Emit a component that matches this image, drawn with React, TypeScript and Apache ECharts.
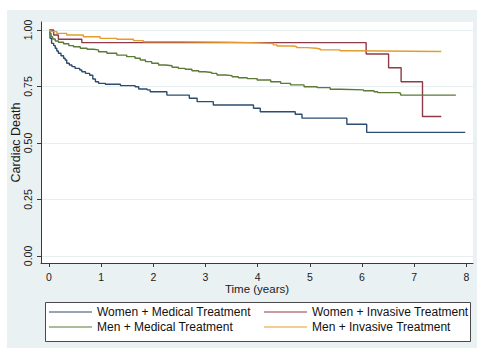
import React, { useEffect, useRef } from "react";
import * as echarts from "echarts";

// Kaplan-Meier style step curves: [time (years), survival]
const womenMedical: [number, number][] = [
  [0, 1], [0.02, 0.963], [0.05, 0.941], [0.09, 0.931], [0.12, 0.919], [0.15, 0.907],
  [0.18, 0.897], [0.23, 0.886], [0.28, 0.875], [0.31, 0.867], [0.34, 0.853], [0.39, 0.845],
  [0.44, 0.838], [0.5, 0.83], [0.59, 0.823], [0.63, 0.815], [0.7, 0.808], [0.78, 0.8],
  [0.84, 0.783], [0.89, 0.771], [0.95, 0.764], [1.08, 0.76], [1.37, 0.754], [1.65, 0.749],
  [1.72, 0.739], [1.88, 0.735], [1.94, 0.727], [2.26, 0.712], [2.69, 0.698], [2.84, 0.683],
  [3.15, 0.668], [3.92, 0.654], [4.05, 0.638], [4.72, 0.627], [4.85, 0.61], [5.71, 0.583],
  [6.09, 0.547], [7.98, 0.547],
];
const womenInvasive: [number, number][] = [
  [0, 1], [0.09, 0.978], [0.18, 0.959], [0.63, 0.944], [6.08, 0.894], [6.51, 0.833],
  [6.75, 0.771], [7.16, 0.617], [7.52, 0.617],
];
const menMedical: [number, number][] = [
  [0, 1], [0.02, 0.985], [0.04, 0.97], [0.07, 0.96], [0.12, 0.951], [0.18, 0.946],
  [0.28, 0.939], [0.38, 0.931], [0.47, 0.926], [0.6, 0.919], [0.73, 0.915], [0.85, 0.912],
  [0.95, 0.904], [1.11, 0.897], [1.3, 0.889], [1.49, 0.882], [1.65, 0.875], [1.75, 0.867],
  [1.85, 0.86], [1.97, 0.853], [2.1, 0.845], [2.23, 0.842], [2.36, 0.835], [2.48, 0.83],
  [2.61, 0.826], [2.74, 0.82], [2.87, 0.815], [2.99, 0.812], [3.12, 0.808], [3.22, 0.801],
  [3.38, 0.798], [3.51, 0.793], [3.63, 0.789], [3.8, 0.785], [3.99, 0.779], [4.25, 0.771],
  [4.44, 0.764], [4.63, 0.757], [4.89, 0.749], [5.14, 0.745], [5.39, 0.738], [5.59, 0.735],
  [6.03, 0.731], [6.23, 0.727], [6.3, 0.723], [6.7, 0.72], [6.74, 0.712], [7.8, 0.712],
];
const menInvasive: [number, number][] = [
  [0, 1], [0.02, 0.993], [0.15, 0.985], [0.34, 0.978], [0.66, 0.97], [0.98, 0.963],
  [1.3, 0.959], [1.62, 0.953], [1.81, 0.948], [2.5, 0.946], [3.5, 0.943], [4.0, 0.94],
  [4.3, 0.934], [4.37, 0.929], [4.69, 0.926], [4.75, 0.922], [4.94, 0.919], [5.13, 0.916],
  [5.2, 0.912], [5.58, 0.908], [5.77, 0.905], [7.52, 0.905],
];

const seriesNames = [
  "Women + Medical Treatment",
  "Women + Invasive Treatment",
  "Men + Medical Treatment",
  "Men + Invasive Treatment",
];
const seriesColors = ["#2c4d6e", "#8e3a47", "#5b7a36", "#e49c2c"];
const xTicks = [0, 1, 2, 3, 4, 5, 6, 7, 8];
const yTicks = [0, 0.25, 0.5, 0.75, 1];

const FONT = "'Liberation Sans', Arial, Helvetica, sans-serif";
const LEGEND_ICON = "path://M0,0 L43,0 L43,1.2 L0,1.2 Z";

export default function App() {
  const ref = useRef<HTMLDivElement>(null);
  useEffect(() => {
    if (!ref.current) return;
    const chart = echarts.init(ref.current, undefined, { renderer: "svg" });
    const datasets = [womenMedical, womenInvasive, menMedical, menInvasive];
    const legendBase = {
      orient: "vertical",
      top: 306,
      icon: LEGEND_ICON,
      itemWidth: 43,
      itemHeight: 14,
      itemGap: 3,
      padding: 0,
      textStyle: { fontSize: 12, color: "#111", fontFamily: FONT, fontWeight: "normal" },
    };
    chart.setOption({
      animation: false,
      backgroundColor: "#eaf1f3",
      textStyle: { fontFamily: FONT },
      grid: {
        left: 41,
        right: 4,
        top: 22,
        bottom: 87,
        show: true,
        backgroundColor: "#ffffff",
        borderWidth: 0,
        containLabel: false,
        outerBoundsMode: "none",
      },
      xAxis: {
        type: "value",
        min: -0.153,
        max: 8.128,
        axisLine: { show: true, onZero: false, lineStyle: { color: "#3a3a3a", width: 1 } },
        axisTick: { show: true, length: 4, customValues: xTicks, lineStyle: { color: "#3a3a3a" } },
        axisLabel: { customValues: xTicks, margin: 8, fontSize: 10.5, color: "#1a1a1a", fontFamily: FONT },
        splitLine: { show: false },
        name: "Time (years)",
        nameLocation: "middle",
        nameGap: 20,
        nameMoveOverlap: false,
        nameTextStyle: { fontSize: 11.5, color: "#1a1a1a", fontFamily: FONT, fontWeight: "normal" },
      },
      yAxis: {
        type: "value",
        min: -0.031,
        max: 1.0354,
        axisLine: { show: true, onZero: false, lineStyle: { color: "#3a3a3a", width: 1 } },
        axisTick: { show: true, length: 4, customValues: yTicks, lineStyle: { color: "#3a3a3a" } },
        axisLabel: {
          customValues: yTicks,
          rotate: 90,
          margin: 8,
          fontSize: 10.5,
          color: "#1a1a1a",
          fontFamily: FONT,
          formatter: (v: number) => v.toFixed(2),
        },
        splitLine: { show: true, lineStyle: { color: "#e6eef0", width: 1 } },
        name: "Cardiac Death",
        nameLocation: "middle",
        nameGap: 19,
        nameMoveOverlap: false,
        nameTextStyle: { fontSize: 12.5, color: "#1a1a1a", fontFamily: FONT, fontWeight: "normal" },
      },
      legend: [
        { ...legendBase, data: [seriesNames[0], seriesNames[2]], left: 49 },
        { ...legendBase, data: [seriesNames[1], seriesNames[3]], left: 264 },
      ],
      graphic: [
        { type: "rect", shape: { x: 0, y: 0, width: 477, height: 10 }, style: { fill: "#ffffff" }, silent: true },
        { type: "rect", shape: { x: 0, y: 0, width: 7, height: 350 }, style: { fill: "#ffffff" }, silent: true },
        { type: "rect", shape: { x: 0, y: 348, width: 477, height: 2 }, style: { fill: "#ffffff" }, silent: true },
        {
          type: "rect",
          shape: { x: 45.5, y: 302.5, width: 425, height: 39 },
          style: { fill: "#ffffff", stroke: "#4a4a4a", lineWidth: 1 },
          silent: true,
          z: 1,
        },
      ],
      series: datasets.map((d, i) => ({
        type: "line",
        name: seriesNames[i],
        data: d,
        step: "end",
        symbol: "none",
        color: seriesColors[i],
        lineStyle: { color: seriesColors[i], width: 1.4 },
      })),
    });
    return () => chart.dispose();
  }, []);
  return (
    <div
      ref={ref}
      style={{ position: "fixed", left: 0, top: 0, width: 477, height: 350 }}
    />
  );
}
